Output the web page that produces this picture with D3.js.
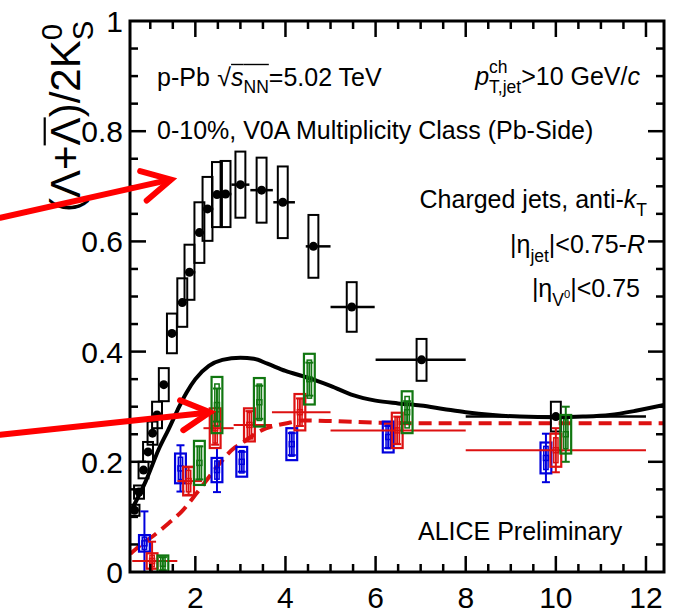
<!DOCTYPE html>
<html><head><meta charset="utf-8">
<script src="https://cdn.jsdelivr.net/npm/d3@7"></script>
<style>body{margin:0;background:#fff} svg{display:block}</style>
</head><body><svg id="c" width="682" height="614"></svg>
<script>
// ---------- data ----------
const xDomain = [0.55, 12.4];
const yDomain = [0, 1];
const xTickLabels = [2, 4, 6, 8, 10, 12];
const yTickLabels = [0, 0.2, 0.4, 0.6, 0.8, 1];
const yTickText = ["0", "0.2", "0.4", "0.6", "0.8", "1"];

// black: inclusive points
const blackX   = [0.65,0.75,0.85,0.95,1.05,1.15,1.30,1.48,1.71,1.87,2.09,2.27,2.48,2.67,3.00,3.47,3.94,4.62,5.47,7.02,10.0];
const blackY   = [0.112,0.145,0.185,0.218,0.252,0.285,0.340,0.433,0.489,0.544,0.616,0.659,0.685,0.686,0.703,0.693,0.671,0.591,0.481,0.385,0.282];
const blackSys = [0.010,0.012,0.015,0.018,0.021,0.024,0.030,0.036,0.044,0.050,0.055,0.058,0.059,0.060,0.060,0.059,0.065,0.057,0.045,0.038,0.027];
const blackXlo = [0.60,0.70,0.80,0.90,1.00,1.10,1.20,1.40,1.60,1.80,2.00,2.20,2.40,2.60,2.80,3.22,3.73,4.45,5.00,6.00,8.00];
const blackXhi = [0.70,0.80,0.90,1.00,1.10,1.20,1.40,1.60,1.80,2.00,2.20,2.40,2.60,2.80,3.20,3.72,4.21,5.00,5.98,8.00,12.0];

// blue series
const blueX    = [0.87, 1.67, 2.48, 3.03, 4.14, 6.28, 9.78];
const blueY    = [0.052, 0.188, 0.185, 0.200, 0.232, 0.245, 0.207];
const blueStat = [0.058, 0.042, 0.040, 0.018, 0.020, 0.020, 0.044];
const blueSys  = [0.015, 0.027, 0.022, 0.027, 0.029, 0.028, 0.028];

// red series
const redX    = [1.04, 1.85, 2.44, 3.20, 4.32, 6.48, 10.0];
const redY    = [0.020, 0.165, 0.261, 0.267, 0.290, 0.257, 0.221];
const redStat = [0.035, 0.025, 0.030, 0.025, 0.025, 0.025, 0.040];
const redSys  = [0.014, 0.026, 0.036, 0.030, 0.033, 0.032, 0.030];
const redXlo  = [0.60, 1.60, 2.18, 2.85, 3.70, 5.00, 8.00];
const redXhi  = [1.60, 2.15, 2.85, 3.70, 5.00, 8.00, 12.0];

// green series
const greenX    = [1.28, 2.09, 2.48, 3.42, 4.53, 6.70, 10.22];
const greenY    = [0.015, 0.198, 0.303, 0.308, 0.350, 0.290, 0.250];
const greenStat = [0.012, 0.030, 0.030, 0.030, 0.030, 0.020, 0.050];
const greenSys  = [0.015, 0.040, 0.051, 0.044, 0.046, 0.038, 0.035];

// black solid curve
const curveX = [0.58,0.9,1.2,1.4,1.6,1.8,2.0,2.3,2.6,3.0,3.3,3.6,4.0,4.4,4.7,5.0,5.5,6.0,6.5,7.0,7.5,8.0,8.6,9.2,10.0,10.6,11.2,11.8,12.4];
const curveY = [0.112,0.165,0.225,0.258,0.293,0.325,0.350,0.374,0.385,0.389,0.387,0.378,0.365,0.355,0.347,0.338,0.321,0.311,0.306,0.302,0.296,0.290,0.285,0.282,0.281,0.282,0.285,0.293,0.303];

// red dashed curve
const dashX = [0.56,0.8,1.04,1.4,1.7,2.0,2.3,2.55,2.88,3.0,3.44,4.03,4.4,5.0,6.0,7.0,8.0,10.0,12.4];
const dashY = [0.033,0.050,0.064,0.088,0.110,0.140,0.172,0.198,0.226,0.232,0.256,0.270,0.275,0.274,0.271,0.270,0.270,0.270,0.270];

// annotation arrows (data units: [from], [tip])
const arrows = [
  {from: [-2.33, 0.643], tip: [1.46, 0.712]},
  {from: [-2.33, 0.249], tip: [2.32, 0.290]}
];

// ---------- drawing ----------
const FONT = '"Liberation Sans", Arial, Helvetica, sans-serif';
const svg = d3.select('#c');
const L = 130, R = 664, T = 21, B = 572;
const x = d3.scaleLinear().domain(xDomain).range([L, R]);
const y = d3.scaleLinear().domain(yDomain).range([B, T]);

svg.append('rect').attr('width', 682).attr('height', 614).attr('fill', '#fff');

svg.append('defs').append('clipPath').attr('id', 'clip')
  .append('rect').attr('x', L).attr('y', T).attr('width', R - L).attr('height', B - T);

const plot = svg.append('g').attr('clip-path', 'url(#clip)');

// curves
const line = d3.line().curve(d3.curveMonotoneX);
plot.append('path')
  .attr('d', line(curveX.map((v, i) => [x(v), y(curveY[i])])))
  .attr('fill', 'none').attr('stroke', '#000').attr('stroke-width', 4);
plot.append('path')
  .attr('d', line(dashX.map((v, i) => [x(v), y(dashY[i])])))
  .attr('fill', 'none').attr('stroke', '#dd1111').attr('stroke-width', 4)
  .attr('stroke-dasharray', '13,7');

// black points
const boxW = x(0.22) - x(0);
blackX.forEach((v, i) => {
  plot.append('rect')
    .attr('x', x(v) - boxW / 2).attr('y', y(blackY[i] + blackSys[i]))
    .attr('width', boxW).attr('height', y(blackY[i] - blackSys[i]) - y(blackY[i] + blackSys[i]))
    .attr('fill', 'none').attr('stroke', '#000').attr('stroke-width', 2);
  plot.append('line')
    .attr('x1', x(blackXlo[i])).attr('x2', x(blackXhi[i]))
    .attr('y1', y(blackY[i])).attr('y2', y(blackY[i]))
    .attr('stroke', '#000').attr('stroke-width', 2.5);
  plot.append('circle').attr('cx', x(v)).attr('cy', y(blackY[i])).attr('r', 4.5).attr('fill', '#000');
});

function coloured(xs, ys, stat, sys, col, xlo, xhi) {
  const w = x(0.24) - x(0);
  const wi = w * 0.4;
  xs.forEach((v, i) => {
    const cx = x(v);
    if (xlo) {
      plot.append('line')
        .attr('x1', x(xlo[i])).attr('x2', x(xhi[i]))
        .attr('y1', y(ys[i])).attr('y2', y(ys[i]))
        .attr('stroke', col).attr('stroke-width', 2);
    }
    plot.append('rect')
      .attr('x', cx - w / 2).attr('y', y(ys[i] + sys[i]))
      .attr('width', w).attr('height', y(ys[i] - sys[i]) - y(ys[i] + sys[i]))
      .attr('fill', 'none').attr('stroke', col).attr('stroke-width', 2.2);
    plot.append('rect')
      .attr('x', cx - wi / 2).attr('y', y(ys[i] + sys[i] * 0.75))
      .attr('width', wi).attr('height', y(ys[i] - sys[i] * 0.75) - y(ys[i] + sys[i] * 0.75))
      .attr('fill', 'none').attr('stroke', col).attr('stroke-width', 1.5);
    const lo = Math.max(0, ys[i] - stat[i]), hi = ys[i] + stat[i];
    plot.append('line').attr('x1', cx).attr('x2', cx).attr('y1', y(lo)).attr('y2', y(hi))
      .attr('stroke', col).attr('stroke-width', 2);
    [lo, hi].forEach(e => {
      plot.append('line').attr('x1', cx - 4).attr('x2', cx + 4).attr('y1', y(e)).attr('y2', y(e))
        .attr('stroke', col).attr('stroke-width', 2);
    });
    plot.append('rect').attr('x', cx - 2.5).attr('y', y(ys[i]) - 2.5).attr('width', 5).attr('height', 5)
      .attr('fill', 'none').attr('stroke', col).attr('stroke-width', 1.5);
  });
}
coloured(blueX, blueY, blueStat, blueSys, '#0000dd');
coloured(redX, redY, redStat, redSys, '#dd1111', redXlo, redXhi);
coloured(greenX, greenY, greenStat, greenSys, '#117711');

// ---------- axes / frame ----------
const axes = svg.append('g').attr('stroke', '#000');
axes.append('rect').attr('x', L).attr('y', T).attr('width', R - L).attr('height', B - T)
  .attr('fill', 'none').attr('stroke-width', 3);
const xMinor = d3.range(1, 12.01, 0.5);
xMinor.forEach(v => {
  const major = Math.abs(v % 2) < 1e-6;
  const len = major ? 16 : 8;
  axes.append('line').attr('x1', x(v)).attr('x2', x(v)).attr('y1', B).attr('y2', B - len).attr('stroke-width', 2.5);
  axes.append('line').attr('x1', x(v)).attr('x2', x(v)).attr('y1', T).attr('y2', T + len).attr('stroke-width', 2.5);
});
const yMinor = d3.range(0.05, 0.9999, 0.05);
yMinor.forEach(v => {
  const major = Math.abs(Math.round(v * 100) % 20) < 1e-6;
  const len = major ? 16 : 8;
  axes.append('line').attr('x1', L).attr('x2', L + len).attr('y1', y(v)).attr('y2', y(v)).attr('stroke-width', 2.5);
  axes.append('line').attr('x1', R).attr('x2', R - len).attr('y1', y(v)).attr('y2', y(v)).attr('stroke-width', 2.5);
});

const labels = svg.append('g').attr('font-family', FONT).attr('fill', '#000');
xTickLabels.forEach(v => {
  labels.append('text').attr('x', x(v)).attr('y', 608).attr('text-anchor', 'middle')
    .attr('font-size', 30).text(v);
});
yTickLabels.forEach((v, i) => {
  labels.append('text').attr('x', 123).attr('y', y(v) + 11).attr('text-anchor', 'end')
    .attr('font-size', 30).text(yTickText[i]);
});

// ---------- rich text helper ----------
function rich(transform, size, pieces, anchor) {
  const g = svg.append('g').attr('font-family', FONT);
  const inner = g.append('g');
  let cx = 0;
  function put(p, at) {
    const s = size * (p.scale || 1);
    const t = inner.append('text').attr('x', at).attr('y', (p.dy || 0) * size)
      .attr('font-size', s).attr('fill', '#000')
      .attr('font-style', p.italic ? 'italic' : null).text(p.t);
    return t.node().getComputedTextLength();
  }
  pieces.forEach(p => {
    if (p.stack) {
      let m = 0;
      p.stack.forEach(s => { m = Math.max(m, put(s, cx)); });
      cx += m;
    } else {
      const w = put(p, cx);
      if (p.over !== undefined) {
        inner.append('line').attr('x1', cx).attr('x2', cx + w)
          .attr('y1', p.over * size).attr('y2', p.over * size)
          .attr('stroke', '#000').attr('stroke-width', size > 30 ? 2.2 : 1.4);
      }
      cx += (w + (p.gap || 0) * size);
    }
  });
  const shift = anchor === 'end' ? -cx : anchor === 'middle' ? -cx / 2 : 0;
  inner.attr('transform', `translate(${shift},0)`);
  g.attr('transform', transform);
  return g;
}

// y-axis title
rich('translate(80,212) rotate(-90)', 42, [
  {t: '(Λ+'}, {t: 'Λ', over: -0.84}, {t: ')/2K'},
  {stack: [{t: '0', scale: 0.7, dy: -0.42}, {t: 'S', scale: 0.7, dy: 0.3}]}
], 'start');

rich('translate(157,86)', 25, [
  {t: 'p-Pb', gap: 0.3}, {t: '√'}, {t: 's', italic: true, over: -0.86},
  {t: 'NN', scale: 0.7, dy: 0.28, over: -0.86}, {t: '=5.02 TeV'}
], 'start');

rich('translate(640,85)', 25, [
  {t: 'p', italic: true},
  {stack: [{t: 'ch', scale: 0.7, dy: -0.5}, {t: 'T,jet', scale: 0.7, dy: 0.32}]},
  {t: '>10 GeV/'}, {t: 'c', italic: true}
], 'end');

rich('translate(157,139)', 25, [{t: '0-10%, V0A Multiplicity Class (Pb-Side)'}], 'start');

rich('translate(647,208)', 25, [
  {t: 'Charged jets, anti-'}, {t: 'k', italic: true}, {t: 'T', scale: 0.7, dy: 0.3}
], 'end');

rich('translate(645,253)', 25, [
  {t: '|η'}, {t: 'jet', scale: 0.7, dy: 0.35}, {t: '|<0.75-'}, {t: 'R', italic: true}
], 'end');

rich('translate(640,297)', 25, [
  {t: '|η'}, {t: 'V', scale: 0.7, dy: 0.35}, {t: '0', scale: 0.45, dy: 0.05}, {t: '|<0.75'}
], 'end');

rich('translate(418,540)', 25, [{t: 'ALICE Preliminary'}], 'start');

// ---------- arrows ----------
const ag = svg.append('g').attr('stroke', '#f00').attr('stroke-width', 6)
  .attr('stroke-linecap', 'round').attr('fill', 'none');
arrows.forEach(a => {
  const x0 = x(a.from[0]), y0 = y(a.from[1]), x1 = x(a.tip[0]), y1 = y(a.tip[1]);
  ag.append('line').attr('x1', x0).attr('y1', y0).attr('x2', x1 - 3).attr('y2', y1 + 0.5);
  const ang = Math.atan2(y0 - y1, x0 - x1);
  const len = 32, spread = 28 * Math.PI / 180;
  const pts = [
    [x1 + len * Math.cos(ang - spread), y1 + len * Math.sin(ang - spread)],
    [x1, y1],
    [x1 + len * Math.cos(ang + spread), y1 + len * Math.sin(ang + spread)]
  ];
  ag.append('path').attr('d', d3.line()(pts)).attr('stroke-linejoin', 'miter');
});
</script>
</body></html>
